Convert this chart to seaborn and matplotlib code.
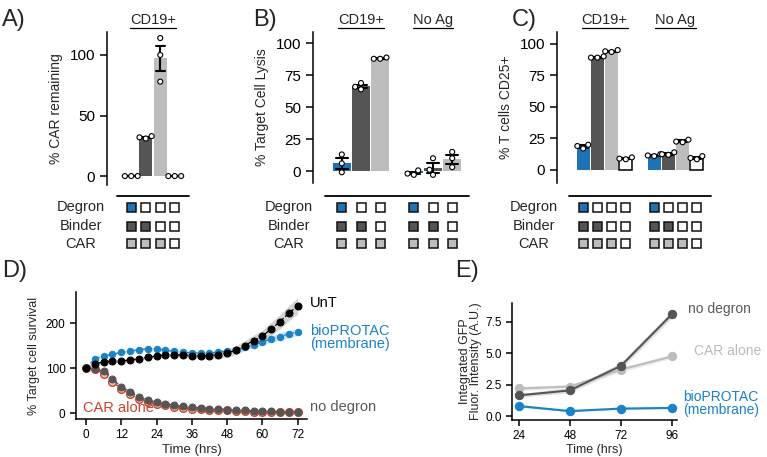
import numpy as np
import pandas as pd
import matplotlib
matplotlib.use("Agg")
import matplotlib.pyplot as plt
import seaborn as sns
from matplotlib.patches import Rectangle
from matplotlib.lines import Line2D
from matplotlib.transforms import blended_transform_factory

sns.set_style("ticks")
plt.rcParams["font.family"] = ["Liberation Sans", "DejaVu Sans"]
plt.rcParams["axes.linewidth"] = 1.1
plt.rcParams["xtick.major.width"] = 1.1
plt.rcParams["ytick.major.width"] = 1.1
plt.rcParams["xtick.color"] = "k"
plt.rcParams["ytick.color"] = "k"
plt.rcParams["axes.edgecolor"] = "k"

BLUE = "#1f73b4"
DARK = "#555555"
LIGHT = "#bdbdbd"
D_BLUE = "#1a82c6"
RED = "#c9442c"

# ---- data: bar panels ----
conditions = ["Degron+Binder+CAR", "Binder+CAR", "CAR", "UnT"]
cond_colors = {"Degron+Binder+CAR": BLUE, "Binder+CAR": DARK, "CAR": LIGHT, "UnT": "white"}
parts = {"Degron+Binder+CAR": ["Degron", "Binder", "CAR"], "Binder+CAR": ["Binder", "CAR"],
         "CAR": ["CAR"], "UnT": []}
components = ["Degron", "Binder", "CAR"]
comp_colors = {"Degron": BLUE, "Binder": DARK, "CAR": LIGHT}

a_groups = ["CD19+"]
a_conds = conditions
a_reps = {"CD19+": [[0, 0, 0], [32, 33, 31], [114, 100, 78], [0, 0, 0]]}

b_groups = ["CD19+", "No Ag"]
b_conds = conditions[:3]
b_reps = {"CD19+": [[13, 6, -1], [69, 66, 64], [88, 88, 89]],
          "No Ag": [[0.5, -3, -2], [10, 1, -3], [15, 10, 3]]}

c_groups = ["CD19+", "No Ag"]
c_conds = conditions
c_reps = {"CD19+": [[19, 17, 20], [89, 89, 90], [93.5, 94, 95], [8.5, 9, 10]],
          "No Ag": [[11, 11.5, 12.5], [12, 12.5, 14], [22, 22.5, 24], [8.5, 9.5, 11]]}

# ---- data: panel D ----
time_d = [0, 3, 6, 9, 12, 15, 18, 21, 24, 27, 30, 33, 36, 39, 42, 45, 48, 51, 54, 57, 60, 63, 66, 69, 72]
unt = [100, 109, 114, 115, 116, 118, 121, 124, 127, 129, 129, 129, 128, 127, 128, 130, 133, 140, 150, 161, 171, 187, 203, 222, 238]
unt_sd = [0, 3, 3, 3, 3, 3, 3, 3, 4, 4, 4, 5, 6, 7, 8, 9, 9, 10, 11, 12, 13, 15, 16, 17, 18]
bio_d = [100, 121, 127, 131, 135, 138, 141, 143, 143, 140, 137, 135, 134, 133, 133, 136, 137, 140, 146, 152, 158, 165, 170, 176, 180]
bio_d_sd = [0, 3, 3, 3, 3, 3, 3, 3, 3, 3, 3, 3, 3, 3, 3, 4, 4, 5, 5, 6, 7, 7, 8, 8, 8]
nodeg_d = [100, 99, 93, 75, 59, 47, 36, 29, 25, 21, 18, 15, 13, 12, 10, 9, 8, 7, 6, 5, 4, 4, 3, 3, 3]
car_d = [100, 97, 88, 70, 54, 42, 32, 25, 20, 17, 14, 12, 10, 9, 8, 7, 6, 5, 4, 3, 3, 2, 2, 2, 2]

# ---- data: panel E ----
time_e = [24, 48, 72, 96]
nodeg_e = [1.65, 2.05, 4.0, 8.1]
nodeg_e_sd = [0.15, 0.2, 0.25, 0.3]
car_e = [2.2, 2.35, 3.7, 4.75]
car_e_sd = [0.15, 0.15, 0.2, 0.15]
bio_e = [0.8, 0.4, 0.6, 0.65]
bio_e_sd = [0.08, 0.05, 0.05, 0.05]

W, H = 767, 457
fig = plt.figure(figsize=(W / 100, H / 100), dpi=100)


def px_axes(l, t, r, b):
    return fig.add_axes([l / W, 1 - b / H, (r - l) / W, (b - t) / H])


def long_df(groups, conds, reps):
    rows = []
    for g in groups:
        for c, vals in zip(conds, reps[g]):
            for v in vals:
                rows.append((g, c, v))
    return pd.DataFrame(rows, columns=["group", "condition", "value"])


titles = []


def bar_panel(box, groups, conds, reps, ylim, yticks, ylabel, center_px, scale):
    l, t, r, b = box
    ax = px_axes(l, t, r, b)
    df = long_df(groups, conds, reps)
    sns.barplot(data=df, x="group", y="value", hue="condition", order=groups, hue_order=conds,
                palette={c: cond_colors[c] for c in conds}, saturation=1, width=0.8, gap=0.08,
                errorbar="se", capsize=0.5, err_kws={"color": "k", "linewidth": 1.5},
                linewidth=0, legend=False, ax=ax)
    for p in ax.patches:
        if np.allclose(p.get_facecolor()[:3], (1, 1, 1)):
            p.set_edgecolor("k")
            p.set_linewidth(1.1)
    sns.swarmplot(data=df, x="group", y="value", hue="condition", order=groups, hue_order=conds,
                  dodge=True, palette={c: "white" for c in conds}, edgecolor="k", linewidth=0.8,
                  size=3.6, legend=False, ax=ax)
    ax.set_xlim((l - center_px) / scale, (r - center_px) / scale)
    ax.set_ylim(*ylim)
    ax.set_yticks(yticks)
    ax.set_xticks([])
    ax.set_xlabel("")
    ax.set_ylabel(ylabel, fontsize=10, labelpad=5)
    ax.tick_params(axis="y", labelsize=11, length=5)
    sns.despine(ax=ax, bottom=True)

    # component table under the bars
    tax = px_axes(l, 188, r, 256)
    tax.set_xlim(ax.get_xlim())
    tax.set_ylim(256, 188)
    tax.axis("off")
    n = len(conds)
    step = 0.8 / n
    sq = 9 / scale
    row_y = [207.5, 226.5, 243.5]
    for gi in range(len(groups)):
        for ci, c in enumerate(conds):
            x = gi + (ci - (n - 1) / 2) * step
            for y, comp in zip(row_y, components):
                fc = comp_colors[comp] if comp in parts[c] else "white"
                tax.add_patch(Rectangle((x - sq / 2, y - 4.5), sq, 9, facecolor=fc,
                                        edgecolor="#111111", linewidth=1.1))
    for y, comp in zip(row_y, components):
        tax.text(-1.0, y, comp, ha="center", va="center", fontsize=10.5)
    tax.plot([-0.5, len(groups) - 0.5], [195.5, 195.5], color="k", lw=1.3)

    tr = blended_transform_factory(ax.transData, fig.transFigure)
    for gi, g in enumerate(groups):
        titles.append(ax.text(gi, 1 - 20 / H, g, transform=tr, ha="center", va="center",
                              fontsize=10.5))
    return ax


bar_panel((107, 32, 195, 185), a_groups, a_conds, a_reps, (-7.4, 119), [0, 50, 100],
          "% CAR remaining", 153, 72.5)
bar_panel((313, 32, 470, 183), b_groups, b_conds, b_reps, (-9.4, 109), [0, 25, 50, 75, 100],
          "% Target Cell Lysis", 361, 72)
bar_panel((557, 32, 714, 183), c_groups, c_conds, c_reps, (-10.3, 109.3), [0, 25, 50, 75, 100],
          "% T cells CD25+", 604.5, 71)

# ---- panel D ----
axd = px_axes(76, 292, 307, 419)
axd.fill_between(time_d, np.array(unt) - np.array(unt_sd), np.array(unt) + np.array(unt_sd),
                 color="#aaaaaa", alpha=0.5, lw=0)
axd.fill_between(time_d, np.array(bio_d) - np.array(bio_d_sd), np.array(bio_d) + np.array(bio_d_sd),
                 color=D_BLUE, alpha=0.2, lw=0)
sns.lineplot(x=time_d, y=car_d, ax=axd, color=RED, marker="o", markersize=5.5, linestyle="--",
             linewidth=0.9, mfc="#f2c4b8", mec=RED, mew=1)
sns.lineplot(x=time_d, y=nodeg_d, ax=axd, color=DARK, marker="o", markersize=5, linestyle="--",
             linewidth=0.9, mec=DARK)
sns.lineplot(x=time_d, y=bio_d, ax=axd, color=D_BLUE, marker="o", markersize=4.6, linestyle="--",
             linewidth=0.9, mec=D_BLUE)
sns.lineplot(x=time_d, y=unt, ax=axd, color="k", marker="o", markersize=5, linestyle="--",
             linewidth=0.9, mec="k")
axd.set_xlim(-3.4, 75.2)
axd.set_ylim(-13, 269)
axd.set_xticks([0, 12, 24, 36, 48, 60, 72])
axd.set_yticks([0, 100, 200])
axd.tick_params(labelsize=8.5, length=4)
axd.set_xlabel("Time (hrs)", fontsize=9.5, labelpad=2)
axd.set_ylabel("% Target cell survival", fontsize=9, labelpad=4)
sns.despine(ax=axd)
axd.text(76.2, 244, "UnT", color="k", fontsize=10.5, va="center", ha="left", clip_on=False)
axd.text(76.2, 168, "bioPROTAC\n(membrane)", color=D_BLUE, fontsize=10.5, va="center", ha="left",
         linespacing=0.9, clip_on=False)
axd.text(76.2, 13, "no degron", color="#5a5a5a", fontsize=10.5, va="center", ha="left", clip_on=False)
axd.text(-1.0, 11, "CAR alone", color=RED, fontsize=10.5, va="center", ha="left")

# ---- panel E ----
axe = px_axes(512, 303, 677, 420)
for y, sd, col, band in [(nodeg_e, nodeg_e_sd, DARK, "#bbbbbb"), (car_e, car_e_sd, LIGHT, "#d5d5d5"),
                         (bio_e, bio_e_sd, D_BLUE, D_BLUE)]:
    axe.fill_between(time_e, np.array(y) - np.array(sd), np.array(y) + np.array(sd),
                     color=band, alpha=0.45, lw=0)
sns.lineplot(x=time_e, y=car_e, ax=axe, color=LIGHT, marker="o", markersize=6, linewidth=1.5, mec=LIGHT)
sns.lineplot(x=time_e, y=nodeg_e, ax=axe, color=DARK, marker="o", markersize=6, linewidth=1.5, mec=DARK)
sns.lineplot(x=time_e, y=bio_e, ax=axe, color=D_BLUE, marker="o", markersize=6, linewidth=1.5, mec=D_BLUE)
axe.set_xlim(20.7, 98.4)
axe.set_ylim(-0.31, 9.0)
axe.set_xticks(time_e)
axe.set_yticks([0, 2.5, 5, 7.5])
axe.set_yticklabels(["0.0", "2.5", "5.0", "7.5"])
axe.tick_params(labelsize=8.5, length=4)
axe.set_xlabel("Time (hrs)", fontsize=9, labelpad=1)
axe.set_ylabel("Integrated GFP\nFluor. Intensity (A.U.)", fontsize=9, labelpad=2, linespacing=0.95)
sns.despine(ax=axe)
axe.text(103.5, 8.5, "no degron", color="#5a5a5a", fontsize=10, va="center", ha="left", clip_on=False)
axe.text(106.5, 5.15, "CAR alone", color="#bbbbbb", fontsize=10, va="center", ha="left", clip_on=False)
axe.text(101.2, 1.0, "bioPROTAC\n(membrane)", color=D_BLUE, fontsize=10, va="center", ha="left",
         linespacing=0.9, clip_on=False)

# ---- panel letters ----
for lab, x, y in [("A)", 2, 20), ("B)", 253, 20), ("C)", 512, 20), ("D)", 2, 271), ("E)", 455, 271)]:
    fig.text(x / W, 1 - y / H, lab, fontsize=17, ha="left", va="center")

# underline group titles
fig.canvas.draw()
renderer = fig.canvas.get_renderer()
for t in titles:
    bb = t.get_window_extent(renderer)
    yl = bb.y0 - 1.0
    fig.add_artist(Line2D([bb.x0 / W, bb.x1 / W], [yl / H, yl / H], transform=fig.transFigure,
                          color="k", lw=0.9))

fig.savefig("out.png", dpi=100)
